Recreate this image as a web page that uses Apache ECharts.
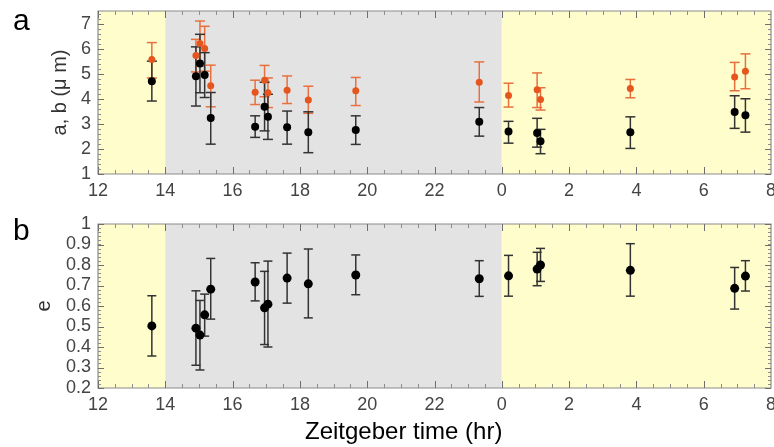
<!DOCTYPE html>
<html>
<head>
<meta charset="utf-8">
<script src="https://cdn.jsdelivr.net/npm/echarts/dist/echarts.min.js"></script>
<style>
    html, body { margin: 0; padding: 0; background: #fff; }
    #main { width: 774px; height: 447px; }
</style>
</head>
<body>
<div id="main"></div>
<script>
// Zeitgeber time (hr), 24+ means next day
var times = [13.6, 14.91, 15.03, 15.17, 15.35, 16.67, 16.95, 17.05, 17.62, 18.25, 19.66, 23.33, 24.2, 25.05, 25.15, 27.82, 30.92, 31.24];

// panel a: a (orange) and b (black), in um
var aMid  = [5.57, 5.73, 6.20, 6.00, 4.52, 4.26, 4.74, 4.24, 4.34, 3.95, 4.32, 4.66, 4.13, 4.36, 3.97, 4.41, 4.87, 5.10];
var aHigh = [6.24, 6.37, 7.10, 6.89, 5.34, 4.74, 5.33, 4.83, 4.91, 4.50, 4.85, 5.47, 4.62, 5.03, 4.44, 4.77, 5.45, 5.79];
var aLow  = [4.83, 5.07, 5.30, 5.10, 3.68, 3.77, 4.08, 3.65, 3.81, 3.42, 3.73, 3.87, 3.67, 3.65, 3.55, 4.04, 4.32, 4.40];
var bMid  = [4.70, 4.90, 5.41, 4.95, 3.23, 2.88, 3.68, 3.28, 2.86, 2.66, 2.75, 3.08, 2.69, 2.63, 2.31, 2.66, 3.47, 3.34];
var bHigh = [5.50, 6.07, 6.57, 5.84, 4.25, 3.32, 4.66, 4.18, 3.51, 3.48, 3.32, 3.65, 3.10, 3.22, 2.78, 3.28, 4.12, 4.00];
var bLow  = [3.91, 3.71, 4.24, 4.05, 2.19, 2.46, 2.72, 2.38, 2.19, 1.85, 2.18, 2.51, 2.23, 2.07, 1.81, 2.02, 2.82, 2.67];

// panel b: e
var eMid  = [0.503, 0.492, 0.458, 0.557, 0.682, 0.717, 0.591, 0.609, 0.736, 0.708, 0.751, 0.733, 0.747, 0.780, 0.800, 0.774, 0.686, 0.746];
var eHigh = [0.650, 0.674, 0.627, 0.658, 0.832, 0.811, 0.769, 0.819, 0.858, 0.878, 0.849, 0.821, 0.847, 0.862, 0.881, 0.904, 0.788, 0.821];
var eLow  = [0.356, 0.311, 0.288, 0.453, 0.536, 0.625, 0.412, 0.400, 0.614, 0.542, 0.655, 0.647, 0.648, 0.699, 0.720, 0.648, 0.585, 0.673];

// light / dark periods: [start, end, isLight]
var periods = [[12, 14, 1], [14, 24, 0], [24, 32, 1]];

// tick positions (major) and minor steps
var xTicks = [12, 14, 16, 18, 20, 22, 24, 26, 28, 30, 32];
var abTicks = [1, 2, 3, 4, 5, 6, 7];
var eTicks = [0.2, 0.3, 0.4, 0.5, 0.6, 0.7, 0.8, 0.9, 1.0];
var xMinorStep = 0.5, abMinorStep = 0.2, eMinorStep = 0.02;

var font = 'Liberation Sans, Arial, sans-serif';
var yellow = '#fefdcb';
var grey = '#e3e3e3';
var orange = '#e5561f';
var frameColor = '#8c8c8c';
var tickColor = '#6e6e6e';

function pts(xs, ys) {
    return xs.map(function (x, i) { return [x, ys[i]]; });
}
function bars(xs, lo, hi) {
    return xs.map(function (x, i) { return [x, lo[i], hi[i]]; });
}

function errorBarSeries(data, xi, yi, color, cap, width) {
    return {
        type: 'custom',
        xAxisIndex: xi,
        yAxisIndex: yi,
        z: 3,
        silent: true,
        data: data,
        renderItem: function (params, api) {
            var x = api.value(0);
            var lo = api.coord([x, api.value(1)]);
            var hi = api.coord([x, api.value(2)]);
            var st = { stroke: color, lineWidth: width };
            return {
                type: 'group',
                children: [
                    { type: 'line', shape: { x1: lo[0], y1: lo[1], x2: hi[0], y2: hi[1] }, style: st },
                    { type: 'line', shape: { x1: lo[0] - cap, y1: lo[1], x2: lo[0] + cap, y2: lo[1] }, style: st },
                    { type: 'line', shape: { x1: hi[0] - cap, y1: hi[1], x2: hi[0] + cap, y2: hi[1] }, style: st }
                ]
            };
        }
    };
}

// shaded light/dark bands, full height of the grid
function bgSeries(xi, yi) {
    return {
        type: 'custom',
        xAxisIndex: xi,
        yAxisIndex: yi,
        z: 1,
        silent: true,
        data: periods,
        renderItem: function (params, api) {
            var cs = params.coordSys;
            var p0 = api.coord([api.value(0), 0]);
            var p1 = api.coord([api.value(1), 0]);
            return {
                type: 'rect',
                shape: { x: p0[0], y: cs.y, width: p1[0] - p0[0], height: cs.height },
                style: { fill: api.value(2) ? yellow : grey }
            };
        }
    };
}

// inward ticks on all four sides, one item per tick: [value, length, isVertical]
function tickItems(xs, ys, yMinorStep) {
    var items = [];
    var x0 = xs[0], x1 = xs[xs.length - 1];
    var n = Math.round((x1 - x0) / xMinorStep);
    for (var i = 1; i < n; i++) items.push([x0 + i * xMinorStep, 4, 1]);
    xs.forEach(function (v) { items.push([v, 7, 1]); });
    var y0 = ys[0];
    var top = ys[ys.length - 1] + (ys[1] - ys[0]) * 0.5;
    var m = Math.round((top - y0) / yMinorStep);
    for (var j = 1; j < m; j++) items.push([y0 + j * yMinorStep, 3, 0]);
    ys.forEach(function (v) { items.push([v, 6, 0]); });
    return items;
}

function tickSeries(xi, yi, ys, yMinorStep) {
    return {
        type: 'custom',
        xAxisIndex: xi,
        yAxisIndex: yi,
        z: 8,
        silent: true,
        clip: false,
        data: tickItems(xTicks, ys, yMinorStep),
        encode: { x: -1, y: -1 },
        renderItem: function (params, api) {
            var cs = params.coordSys;
            var v = api.value(0), len = api.value(1);
            var st = { stroke: len > 4 ? tickColor : frameColor, lineWidth: 1 };
            if (api.value(2)) {
                var x = Math.round(api.coord([v, ys[0]])[0]) + 0.5;
                if (x > cs.x + cs.width) return null;
                return {
                    type: 'group',
                    children: [
                        { type: 'line', shape: { x1: x, y1: cs.y + cs.height, x2: x, y2: cs.y + cs.height - len }, style: st },
                        { type: 'line', shape: { x1: x, y1: cs.y, x2: x, y2: cs.y + len }, style: st }
                    ]
                };
            }
            var y = Math.round(api.coord([xTicks[0], v])[1]) + 0.5;
            if (y < cs.y) return null;
            return {
                type: 'group',
                children: [
                    { type: 'line', shape: { x1: cs.x, y1: y, x2: cs.x + len, y2: y }, style: st },
                    { type: 'line', shape: { x1: cs.x + cs.width, y1: y, x2: cs.x + cs.width - len, y2: y }, style: st }
                ]
            };
        }
    };
}

function xAxisDef(gi) {
    return {
        type: 'value',
        gridIndex: gi,
        min: xTicks[0],
        max: xTicks[xTicks.length - 1],
        interval: 2,
        axisLine: { show: false, onZero: false },
        axisTick: { show: false },
        minorTick: { show: false },
        splitLine: { show: false },
        axisLabel: {
            fontFamily: font,
            fontSize: 18,
            color: '#444',
            margin: 8,
            formatter: function (v) { return String(v % 24); }
        }
    };
}

function yAxisDef(gi, min, max, interval, hideMax, name, gap) {
    return {
        type: 'value',
        gridIndex: gi,
        min: min,
        max: max,
        interval: interval,
        axisLine: { show: false, onZero: false },
        axisTick: { show: false },
        minorTick: { show: false },
        splitLine: { show: false },
        name: name,
        nameLocation: 'middle',
        nameGap: gap,
        nameTextStyle: { fontFamily: font, fontSize: 20, color: '#333' },
        axisLabel: {
            fontFamily: font,
            fontSize: 18,
            color: '#444',
            margin: 7,
            showMaxLabel: hideMax ? false : null
        }
    };
}

var chart = echarts.init(document.getElementById('main'), null, { renderer: 'canvas' });

chart.setOption({
    animation: false,
    title: [
        { text: 'a', left: 8, top: 2, textStyle: { fontFamily: font, fontSize: 30, fontWeight: 'normal', color: '#000' } },
        { text: 'b', left: 8, top: 212, textStyle: { fontFamily: font, fontSize: 30, fontWeight: 'normal', color: '#000' } }
    ],
    grid: [
        { left: 98, right: 3, top: 11, height: 163, outerBoundsMode: 'none', containLabel: false,
          show: true, z: 6, borderColor: frameColor, borderWidth: 1.2, backgroundColor: 'transparent' },
        { left: 98, right: 3, top: 224, height: 164, outerBoundsMode: 'none', containLabel: false,
          show: true, z: 6, borderColor: frameColor, borderWidth: 1.2, backgroundColor: 'transparent' }
    ],
    xAxis: [xAxisDef(0), xAxisDef(1)],
    yAxis: [
        yAxisDef(0, 1, 7.5, 1, true, 'a, b (\u03bc m)', 26),
        yAxisDef(1, 0.2, 1, 0.1, false, 'e', 44)
    ],
    graphic: [{
        type: 'text',
        left: 305,
        top: 420,
        style: { text: 'Zeitgeber time (hr)', font: '24px ' + font, fill: '#000' }
    }],
    series: [
        bgSeries(0, 0),
        bgSeries(1, 1),
        tickSeries(0, 0, abTicks, abMinorStep),
        tickSeries(1, 1, eTicks, eMinorStep),
        errorBarSeries(bars(times, aLow, aHigh), 0, 0, '#e8703f', 5, 1.5),
        {
            type: 'scatter', xAxisIndex: 0, yAxisIndex: 0, z: 4, silent: true,
            symbolSize: 7, itemStyle: { color: orange, opacity: 1 },
            data: pts(times, aMid)
        },
        errorBarSeries(bars(times, bLow, bHigh), 0, 0, '#333', 5, 1.5),
        {
            type: 'scatter', xAxisIndex: 0, yAxisIndex: 0, z: 4, silent: true,
            symbolSize: 8, itemStyle: { color: '#000', opacity: 1 },
            data: pts(times, bMid)
        },
        errorBarSeries(bars(times, eLow, eHigh), 1, 1, '#333', 4.5, 1.5),
        {
            type: 'scatter', xAxisIndex: 1, yAxisIndex: 1, z: 4, silent: true,
            symbolSize: 9, itemStyle: { color: '#000', opacity: 1 },
            data: pts(times, eMid)
        }
    ]
});
</script>
</body>
</html>
